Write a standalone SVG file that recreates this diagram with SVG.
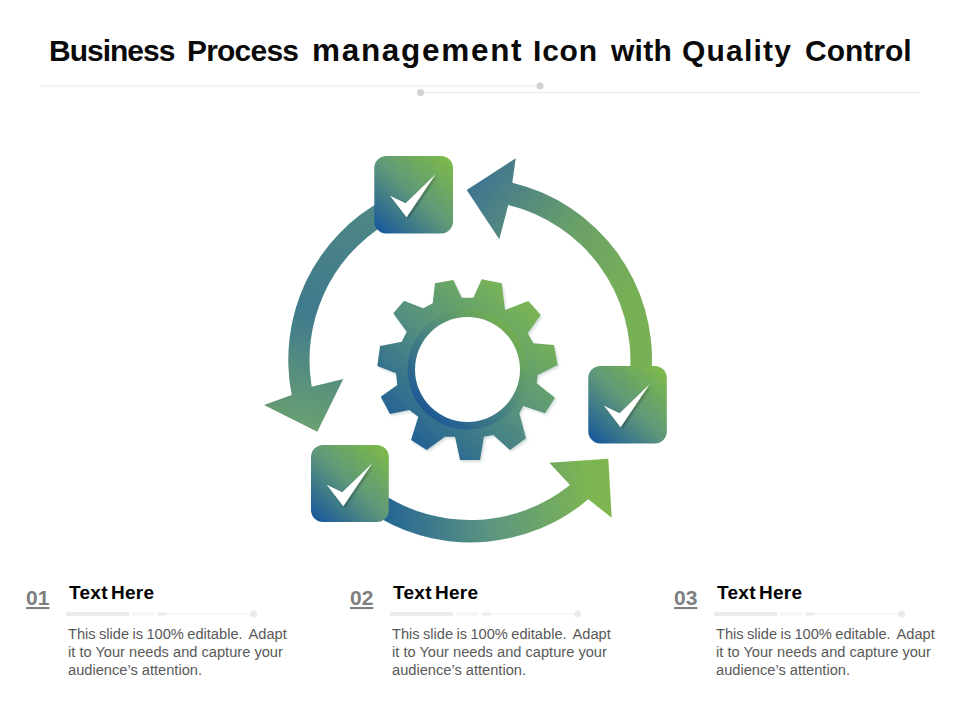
<svg xmlns="http://www.w3.org/2000/svg" width="960" height="720" viewBox="0 0 960 720">
<style>
.title{font:bold 30px "Liberation Sans",Arial,sans-serif;fill:#0a0a0a}
.wide{font-size:31.500px;letter-spacing:1.700px}
.num{font:bold 21px "Liberation Sans",Arial,sans-serif;fill:#7f7f7f;text-decoration:underline}
.head{font:bold 19px "Liberation Sans",Arial,sans-serif;fill:#000;word-spacing:-2.500px;letter-spacing:0.300px}
.body{font:14.650px "Liberation Sans",Arial,sans-serif;fill:#595959;white-space:pre}
.first{word-spacing:-0.700px}
.rule{stroke:#ececec;stroke-width:1.2;fill:none}
.dot{fill:#d2d2d2}
.tick{fill:#ececec}
.thin{stroke:#f0f0f0;stroke-width:1;fill:none}
.box{fill:url(#boxGrad)}
.check{fill:#fff;filter:url(#soft)}
</style>
<defs>
<linearGradient id="boxGrad" x1="0.08" y1="0.95" x2="0.92" y2="0.05">
<stop offset="0" stop-color="#1c5c99"/><stop offset="0.5" stop-color="#5f9879"/><stop offset="1" stop-color="#7cb84c"/>
</linearGradient>
<linearGradient id="gearGrad" gradientUnits="userSpaceOnUse" x1="405" y1="440" x2="535" y2="300">
<stop offset="0" stop-color="#215f96"/><stop offset="0.5" stop-color="#56917e"/><stop offset="1" stop-color="#7cb850"/>
</linearGradient>
<linearGradient id="ringGrad" gradientUnits="userSpaceOnUse" x1="428" y1="412" x2="515" y2="322">
<stop offset="0" stop-color="#1f5b93"/><stop offset="0.5" stop-color="#4f8a7e"/><stop offset="1" stop-color="#78b44c"/>
</linearGradient>
<linearGradient id="arrowA" gradientUnits="userSpaceOnUse" x1="470" y1="190" x2="630" y2="300">
<stop offset="0" stop-color="#3f7591"/><stop offset="0.55" stop-color="#6aa068"/><stop offset="1" stop-color="#78b056"/>
</linearGradient>
<linearGradient id="arrowB" gradientUnits="userSpaceOnUse" x1="365" y1="200" x2="330" y2="435">
<stop offset="0" stop-color="#4f8783"/><stop offset="0.5" stop-color="#3f7a8d"/><stop offset="1" stop-color="#6ba170"/>
</linearGradient>
<linearGradient id="arrowC" gradientUnits="userSpaceOnUse" x1="385" y1="510" x2="590" y2="490">
<stop offset="0" stop-color="#256595"/><stop offset="0.5" stop-color="#5c9580"/><stop offset="1" stop-color="#7db651"/>
</linearGradient>
<filter id="soft" x="-30%" y="-30%" width="170%" height="170%"><feDropShadow dx="1.5" dy="1.5" stdDeviation="1.2" flood-color="#000" flood-opacity="0.3"/></filter>
<filter id="gearShadow" x="-10%" y="-10%" width="120%" height="120%"><feDropShadow dx="1.5" dy="2" stdDeviation="1.2" flood-color="#6f8f90" flood-opacity="0.3"/></filter>
<polygon id="tickMark" points="15.7,39.7 31.3,47.3 61.3,18.3 32.3,61.3"/>
</defs>

<g id="title">
<text class="title" y="61"><tspan x="49" letter-spacing="-1">Business</tspan> <tspan x="187" letter-spacing="-0.800">Process</tspan> <tspan x="312" class="wide">management</tspan> <tspan x="533" letter-spacing="0.800">Icon</tspan> <tspan x="611" letter-spacing="0.250">with</tspan> <tspan x="682" letter-spacing="1.200">Quality</tspan> <tspan x="805">Control</tspan></text>
<path class="rule" d="M40 86H540M420 92.500H920"/>
<circle class="dot" cx="540" cy="86" r="3.500"/>
<circle class="dot" cx="420.500" cy="92.500" r="3.500"/>
</g>

<g id="connectors">
<path id="arrow-right" fill="url(#arrowA)" d="M466.700 190L515.700 158.300L512.300 182.700A182 182 0 0 1 651.600 372L630 372A160 160 0 0 0 508.300 205L499.300 239.300Z"/>
<path id="arrow-left" fill="url(#arrowB)" d="M385 199A182 182 0 0 0 291.700 395L264 405L317.300 431.700L343.300 379L311.700 386.700A160 160 0 0 1 385 224.400Z"/>
<path id="arrow-bottom" fill="url(#arrowC)" d="M380 492.300A160 160 0 0 0 570 485L549.300 462.700L608.300 458.700L611.700 517.700L588.300 499.300A182 182 0 0 1 380 518.200Z"/>
</g>

<g id="gear">
<path fill="url(#gearGrad)" filter="url(#gearShadow)" d="M393.300 313.300L404 300.700L423.300 308.300L432.700 303.300L435 283.300L453.300 280L461.700 297.700L473.300 297.700L481.700 279.300L501.700 283.300L505 310L528.300 301L540.700 315L527.700 333.300L533.300 343.300L554 345L557.700 365L537.700 375L536.700 383.300L555 397.700L545 413.300L523.300 406L519.300 413.300L526 438.300L510 450L493.300 435L484 436.700L480 460L460 460L455 436.700L445 436.700L426.700 450L411 440L418.300 416.700L409.300 410L390 414L380.700 396.700L397.300 385L396 373.300L377.300 366L380 346L401.700 341.700L406.700 331.700Z"/>
<circle cx="467.500" cy="369.500" r="60" fill="url(#ringGrad)"/>
<circle cx="467.500" cy="369.500" r="52.500" fill="#fff"/>
</g>

<g id="node-top"><rect class="box" x="374.300" y="156" width="78.700" height="77.500" rx="12"/><use href="#tickMark" class="check" x="374.300" y="156"/></g>
<g id="node-right"><rect class="box" x="588.300" y="366" width="78.500" height="77.500" rx="12"/><use href="#tickMark" class="check" x="588.300" y="366"/></g>
<g id="node-left"><rect class="box" x="311" y="445" width="77.800" height="77" rx="12"/><use href="#tickMark" class="check" x="311" y="445"/></g>

<g id="item-01">
<text class="num" x="26" y="605">01</text>
<text class="head" x="69" y="599">Text Here</text>
<rect class="tick" x="66" y="612" width="63" height="4"/><rect x="132" y="612.500" width="22" height="3" fill="#f6f6f6"/><rect class="tick" x="158" y="612.500" width="9" height="3"/>
<path class="thin" d="M167 614H253"/><circle class="tick" cx="253.500" cy="614" r="3.500"/>
<text class="body first" x="68" y="639">This slide is 100% editable.  Adapt</text>
<text class="body" x="68" y="657">it to Your needs and capture your</text>
<text class="body" x="68" y="675">audience’s attention.</text>
</g>
<g id="item-02" transform="translate(324 0)">
<text class="num" x="26" y="605">02</text>
<text class="head" x="69" y="599">Text Here</text>
<rect class="tick" x="66" y="612" width="63" height="4"/><rect x="132" y="612.500" width="22" height="3" fill="#f6f6f6"/><rect class="tick" x="158" y="612.500" width="9" height="3"/>
<path class="thin" d="M167 614H253"/><circle class="tick" cx="253.500" cy="614" r="3.500"/>
<text class="body first" x="68" y="639">This slide is 100% editable.  Adapt</text>
<text class="body" x="68" y="657">it to Your needs and capture your</text>
<text class="body" x="68" y="675">audience’s attention.</text>
</g>
<g id="item-03" transform="translate(648 0)">
<text class="num" x="26" y="605">03</text>
<text class="head" x="69" y="599">Text Here</text>
<rect class="tick" x="66" y="612" width="63" height="4"/><rect x="132" y="612.500" width="22" height="3" fill="#f6f6f6"/><rect class="tick" x="158" y="612.500" width="9" height="3"/>
<path class="thin" d="M167 614H253"/><circle class="tick" cx="253.500" cy="614" r="3.500"/>
<text class="body first" x="68" y="639">This slide is 100% editable.  Adapt</text>
<text class="body" x="68" y="657">it to Your needs and capture your</text>
<text class="body" x="68" y="675">audience’s attention.</text>
</g>
</svg>
